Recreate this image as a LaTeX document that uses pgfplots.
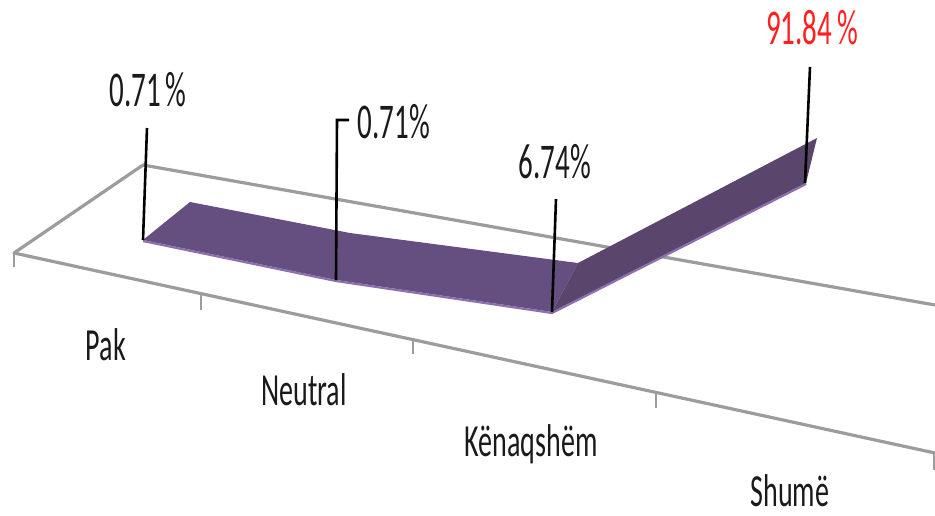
\documentclass[border=0pt]{standalone}
\usepackage{pgfplots}
\pgfplotsset{compat=1.18}
\usepackage{fontspec}
\setmainfont{Carlito}
\definecolor{floorgrey}{HTML}{9C9C9C}
\definecolor{ribbon}{HTML}{654F80}
\definecolor{ribbondark}{HTML}{5A466D}
\definecolor{ribbonedge}{HTML}{8B6FB0}
\definecolor{labelred}{HTML}{FF2020}
\definecolor{labelblack}{HTML}{1A1A1A}
% text is squeezed, the reference is stretched upward
\newcommand{\vallab}[1]{\scalebox{.58}[1]{\fontsize{50}{50}\selectfont #1}}
\newcommand{\catlab}[1]{\scalebox{.61}[1]{\fontsize{46}{46}\selectfont #1}}
\begin{document}
\begin{tikzpicture}
\useasboundingbox (0,0) rectangle (935pt,515pt);
\begin{axis}[
  at={(0,0)}, anchor=south west,
  scale only axis, width=935pt, height=515pt,
  xmin=0, xmax=935, ymin=0, ymax=515,
  y dir=reverse,
  hide axis,
  clip=true,
]
% floor of the 3-D chart, in picture coordinates (perspective view)
\addplot[floorgrey, line width=3.2pt, line join=round] coordinates {
  (935,305) (143,165) (14,253) (935,453)};
\addplot[floorgrey, line width=2pt] coordinates {(14,253) (14,267)};
\addplot[floorgrey, line width=2pt] coordinates {(201,295) (201,310)};
\addplot[floorgrey, line width=2pt] coordinates {(413,340) (413,354)};
\addplot[floorgrey, line width=2pt] coordinates {(656,393) (656,408)};
\addplot[floorgrey, line width=2pt] coordinates {(934,453) (934,470)};
% ribbon: Pak, Neutral, Kenaqshem, Shume
\addplot[draw=none, fill=ribbon] coordinates {
  (143,240) (190,202) (350,233) (578,263) (552,312) (336,280)} -- cycle;
\addplot[draw=none, fill=ribbondark] coordinates {
  (552,312) (578,263) (817,138) (806,183)} -- cycle;
\addplot[ribbonedge, line width=2.2pt, line join=round] coordinates {
  (143,241) (336,281) (552,313) (806,184)};
% leader lines
\addplot[black, line width=2.6pt] coordinates {(147,128) (143,240)};
\addplot[black, line width=2.6pt] coordinates {(349,120) (337,120) (336,280)};
\addplot[black, line width=2.6pt] coordinates {(556,199) (552,312)};
\addplot[black, line width=2.6pt] coordinates {(810,67) (805,183)};
% data labels
\node[labelblack] at (axis cs:148,90) {\vallab{0.71\,\%}};
\node[labelblack] at (axis cs:394,122) {\vallab{0.71\%}};
\node[labelblack] at (axis cs:555,162) {\vallab{6.74\%}};
\node[labelred] at (axis cs:812,28) {\vallab{91.84\,\%}};
% category labels
\node[labelblack] at (axis cs:106,345) {\catlab{Pak}};
\node[labelblack] at (axis cs:304,390) {\catlab{Neutral}};
\node[labelblack] at (axis cs:531,444) {\catlab{Kënaqshëm}};
\node[labelblack, inner sep=0pt] at (axis cs:790,491) {\catlab{Shumë}};
\end{axis}
\end{tikzpicture}
\end{document}
